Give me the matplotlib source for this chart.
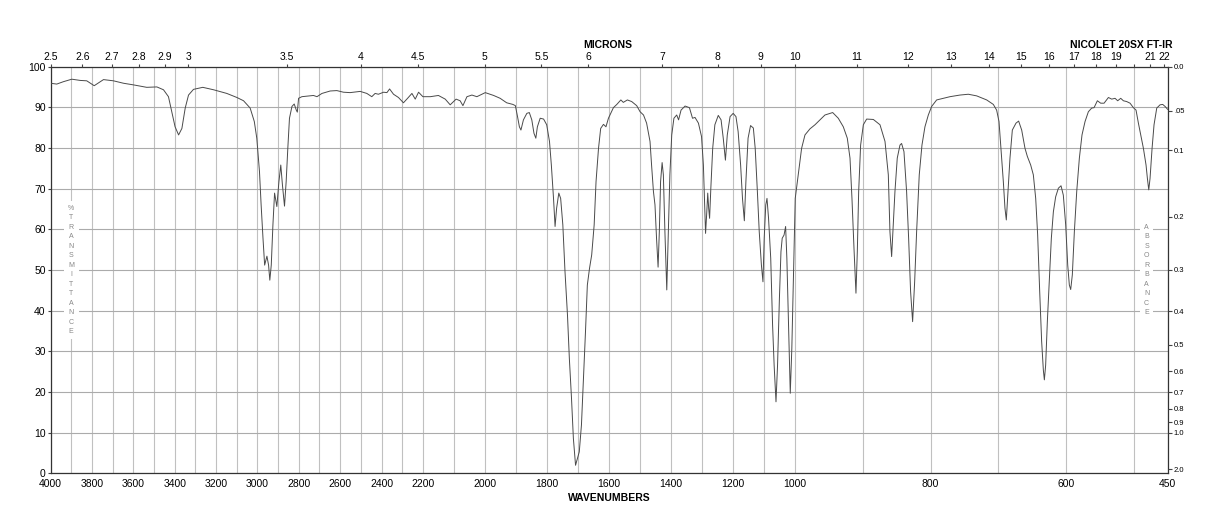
import numpy as np
import matplotlib.pyplot as plt

plt.rcParams['font.family'] = ['Liberation Sans', 'DejaVu Sans']

# spectrum: wavenumber (cm-1), % transmittance
wavenumber = np.array([
    4000, 3970, 3937, 3897, 3857, 3825, 3789, 3744, 3696, 3647, 3599, 3535,
    3486, 3454, 3430, 3414, 3398, 3381, 3365, 3349, 3333, 3309, 3264, 3212,
    3148, 3099, 3067, 3035, 3015, 3003, 2990, 2982, 2973, 2965, 2954, 2946,
    2940, 2933, 2925, 2917, 2906, 2896, 2887, 2879, 2869, 2861, 2853, 2845,
    2833, 2822, 2812, 2807, 2801, 2785, 2729, 2712, 2688, 2648, 2616, 2584,
    2552, 2503, 2471, 2447, 2431, 2415, 2390, 2374, 2361, 2342, 2318, 2294,
    2274, 2253, 2237, 2221, 2200, 2176, 2150, 2128, 2112, 2093, 2080, 2071,
    2058, 2042, 2026, 1999, 1972, 1951, 1930, 1910, 1902, 1895, 1889, 1884,
    1876, 1865, 1857, 1849, 1842, 1836, 1831, 1822, 1811, 1801, 1792, 1786,
    1779, 1774, 1769, 1762, 1756, 1749, 1742, 1734, 1728, 1721, 1715, 1708,
    1702, 1696, 1689, 1683, 1676, 1670, 1663, 1656, 1648, 1642, 1634, 1627,
    1618, 1610, 1602, 1597, 1586, 1575, 1562, 1554, 1541, 1527, 1511, 1500,
    1489, 1479, 1468, 1463, 1457, 1452, 1447, 1442, 1438, 1434, 1429, 1425,
    1420, 1414, 1409, 1404, 1398, 1391, 1382, 1376, 1368, 1355, 1341, 1331,
    1323, 1312, 1302, 1296, 1292, 1289, 1285, 1282, 1279, 1276, 1272, 1266,
    1259, 1248, 1239, 1232, 1225, 1219, 1210, 1200, 1191, 1184, 1176, 1170,
    1164, 1159, 1152, 1144, 1135, 1129, 1122, 1116, 1109, 1104, 1100, 1095,
    1091, 1086, 1079, 1073, 1068, 1062, 1057, 1051, 1046, 1042, 1036, 1031,
    1027, 1021, 1016, 1011, 1005, 1000, 995.5, 990.6, 985.6, 978.2, 970.8,
    963.5, 956.1, 944.7, 936.4, 929.0, 923.1, 919.1, 916.2, 913.2, 910.3,
    908.3, 906.3, 903.4, 899.4, 894.5, 884.6, 874.8, 867.4, 862.5, 860.1,
    857.6, 855.2, 852.7, 849.3, 845.3, 842.9, 839.4, 835.5, 832.5, 829.6,
    826.6, 823.6, 820.7, 816.8, 812.8, 808.4, 803.4, 798.5, 791.1, 781.3,
    771.4, 756.7, 744.3, 732.0, 717.2, 707.4, 702.5, 699.0, 696.1, 692.6,
    690.2, 688.2, 685.7, 682.8, 679.3, 673.9, 670.0, 665.5, 660.6, 657.1,
    652.2, 648.3, 644.8, 641.9, 638.9, 636.0, 633.5, 632.0, 630.1, 627.6,
    624.6, 621.7, 618.7, 615.3, 611.3, 607.4, 604.0, 600.5, 597.5, 595.1,
    593.1, 590.7, 587.7, 584.2, 580.3, 576.4, 571.9, 567.0, 562.1, 558.6,
    553.7, 548.8, 543.8, 537.4, 532.5, 527.6, 523.7, 519.2, 515.3, 510.4,
    505.4, 500.5, 496.6, 493.1, 489.7, 485.7, 481.8, 479.8, 477.8, 475.9,
    472.9, 470.0, 466.0, 461.1, 457.2, 453.7, 450.0])
transmittance = np.array([
    95.9, 95.7, 96.3, 96.9, 96.6, 96.5, 95.3, 96.8, 96.5, 95.9, 95.5, 94.9,
    95.0, 94.3, 92.6, 88.9, 85.2, 83.2, 84.8, 89.8, 93.0, 94.4, 94.9, 94.3,
    93.4, 92.4, 91.6, 89.8, 86.5, 82.4, 74.2, 66.0, 57.8, 51.2, 53.4, 51.2,
    47.5, 51.2, 61.1, 68.9, 65.6, 71.7, 75.8, 70.9, 65.7, 71.7, 79.9, 87.3,
    90.2, 90.8, 89.3, 88.8, 92.2, 92.6, 92.9, 92.6, 93.4, 94.0, 94.1, 93.7,
    93.6, 93.9, 93.4, 92.6, 93.4, 93.2, 93.7, 93.6, 94.5, 93.2, 92.4, 91.1,
    92.2, 93.4, 92.0, 93.7, 92.6, 92.6, 92.9, 92.0, 90.6, 92.0, 91.6, 90.4,
    92.6, 93.0, 92.6, 93.6, 92.9, 92.2, 91.1, 90.7, 90.4, 87.7, 85.2, 84.4,
    86.9, 88.5, 88.7, 86.9, 83.6, 82.4, 85.2, 87.3, 87.1, 85.7, 81.6, 75.8,
    67.6, 60.7, 65.2, 68.9, 67.6, 61.1, 49.6, 38.9, 28.3, 18.4, 8.6, 2.0,
    3.7, 5.3, 11.9, 22.5, 34.8, 46.3, 50.4, 53.7, 61.1, 71.7, 79.9, 84.8,
    85.8, 85.2, 87.3, 88.1, 89.9, 90.7, 91.8, 91.2, 91.8, 91.4, 90.4, 88.9,
    88.1, 86.1, 81.6, 75.8, 69.3, 66.0, 57.8, 50.7, 59.4, 71.7, 76.4, 73.4,
    59.4, 45.1, 59.4, 73.4, 83.2, 87.3, 88.1, 86.9, 89.3, 90.3, 89.9, 87.3,
    87.5, 86.1, 82.8, 75.8, 66.0, 59.0, 64.3, 68.9, 65.2, 62.7, 70.1, 79.9,
    85.7, 88.0, 86.9, 82.4, 77.0, 83.2, 87.7, 88.5, 87.7, 84.0, 75.8, 67.6,
    62.1, 71.7, 82.4, 85.5, 84.9, 79.9, 69.3, 59.4, 51.2, 47.1, 57.8, 66.0,
    67.6, 62.7, 52.9, 36.5, 26.6, 17.6, 26.6, 43.0, 54.5, 57.8, 58.6, 60.7,
    52.9, 34.8, 19.7, 30.7, 51.2, 67.6, 73.4, 79.9, 83.2, 84.7, 85.7,
    86.9, 88.1, 88.7, 87.3, 85.2, 82.4, 77.5, 67.6, 55.3, 44.3,
    54.5, 69.3, 80.7, 85.7, 87.1, 87.0, 85.7, 81.6, 73.4, 59.4,
    53.3, 61.1, 69.3, 77.5, 80.7, 81.1, 79.1, 69.3, 57.8, 44.7,
    37.3, 47.1, 59.4, 73.4, 80.7, 85.2, 88.1, 90.2, 91.8, 92.2,
    92.6, 93.0, 93.2, 92.8, 91.8, 90.7, 89.3, 86.5, 79.9, 71.7,
    65.2, 62.3, 69.3, 77.5, 84.4, 86.1, 86.6, 84.4, 79.9, 77.9,
    75.8, 73.4, 67.6, 58.6, 44.7, 32.4, 25.4, 23.0, 26.6, 37.3,
    48.0, 57.8, 64.3, 68.0, 70.1, 70.7, 68.4, 61.1, 51.2, 46.3,
    45.2, 48.8, 59.4, 69.3, 77.5, 83.2, 86.5, 88.9, 89.8, 89.9,
    91.6, 91.0, 91.0, 92.4, 92.0, 92.2, 91.6, 92.2, 91.6, 91.4,
    91.0, 89.9, 89.3, 86.1, 83.2, 79.9, 75.8, 72.5, 69.7, 72.5,
    79.9, 85.7, 89.8, 90.6, 90.7, 90.2, 89.5])

wn_ticks = [4000, 3800, 3600, 3400, 3200, 3000, 2800, 2600, 2400, 2200,
            2000, 1800, 1600, 1400, 1200, 1000, 800, 600, 450]
microns = [2.5, 2.6, 2.7, 2.8, 2.9, 3, 3.5, 4, 4.5, 5, 5.5, 6, 7, 8, 9, 10,
           11, 12, 13, 14, 15, 16, 17, 18, 19, 20, 21, 22]
micron_labels = ['2.5', '2.6', '2.7', '2.8', '2.9', '3', '3.5', '4', '4.5',
                 '5', '5.5', '6', '7', '8', '9', '10', '11', '12', '13', '14',
                 '15', '16', '17', '18', '19', '', '21', '22']
absorb = [0.0, 0.05, 0.1, 0.2, 0.3, 0.4, 0.5, 0.6, 0.7, 0.8, 0.9, 1.0, 2.0]
absorb_labels = ['0.0', '.05', '0.1', '0.2', '0.3', '0.4', '0.5', '0.6',
                 '0.7', '0.8', '0.9', '1.0', '2.0']

# chart paper is 3 equal parts: 4000-2200, 2200-1000, 1000-450
brk_w = [0, 450, 1000, 2200, 4000, 10000]
brk_u = [-450 / 550, 0, 1, 2, 3, 3 + 6000 / 1800]


def fwd(w):
    return np.interp(w, brk_w, brk_u)


def inv(u):
    return np.interp(u, brk_u, brk_w)


fig = plt.figure(figsize=(12.18, 5.28), dpi=100)
ax = fig.add_axes([0.0415, 0.1034, 0.9171, 0.7705])
ax.set_xscale('function', functions=(fwd, inv))
ax.set_xlim(4000, 450)
ax.set_ylim(0, 100)

ax.plot(wavenumber, transmittance, color='#4a4a4a', lw=0.7, zorder=4)

ax.set_xticks(wn_ticks)
ax.set_xticklabels([str(t) for t in wn_ticks])
ax.set_xticks(np.arange(500, 4000, 100), minor=True)
ax.set_yticks(np.arange(0, 101, 10))
ax.grid(which='both', axis='x', color='#c0c0c0', lw=0.8, zorder=1)
ax.grid(which='major', axis='y', color='#ababab', lw=0.8, zorder=1)
ax.tick_params(axis='x', which='both', length=0, pad=4, labelsize=7.5)
ax.tick_params(axis='y', length=2, pad=1.5, labelsize=7.5, color='#444')
for s in ax.spines.values():
    s.set_color('#333333')
    s.set_linewidth(0.9)

# top axis: microns
ax2 = ax.twiny()
ax2.set_xscale('function', functions=(fwd, inv))
ax2.set_xlim(4000, 450)
ax2.set_xticks([1e4 / m for m in microns])
ax2.set_xticklabels(micron_labels)
ax2.tick_params(axis='x', length=2, pad=1, labelsize=7.5, color='#444')
ax2.minorticks_off()

# right axis: absorbance
ax3 = ax.twinx()
ax3.set_ylim(0, 100)
ax3.set_yticks([100 * 10 ** (-a) for a in absorb])
ax3.set_yticklabels(absorb_labels)
ax3.tick_params(axis='y', length=3, pad=1.5, labelsize=5.5, color='#444')
for a in (ax2, ax3):
    for s in a.spines.values():
        s.set_visible(False)

ax.text(3900, 50, '%\nT\nR\nA\nN\nS\nM\nI\nT\nT\nA\nN\nC\nE',
        ha='center', va='center', fontsize=5, linespacing=1.5, color='#888888',
        bbox=dict(fc='white', ec='none', pad=3), zorder=2)
ax.text(481, 50, 'A\nB\nS\nO\nR\nB\nA\nN\nC\nE',
        ha='center', va='center', fontsize=5, linespacing=1.5, color='#888888',
        bbox=dict(fc='white', ec='none', pad=2.5), zorder=2)

fig.text(608 / 1218, 1 - 45 / 528, 'MICRONS', ha='center', va='center',
         fontsize=7.5, fontweight='bold')
fig.text(1121.7 / 1218, 1 - 45 / 528, 'NICOLET 20SX FT-IR', ha='center',
         va='center', fontsize=7.5, fontweight='bold')
fig.text(609 / 1218, 1 - 497.7 / 528, 'WAVENUMBERS', ha='center',
         va='center', fontsize=7.5, fontweight='bold')

fig.savefig('out.png', dpi=100)
